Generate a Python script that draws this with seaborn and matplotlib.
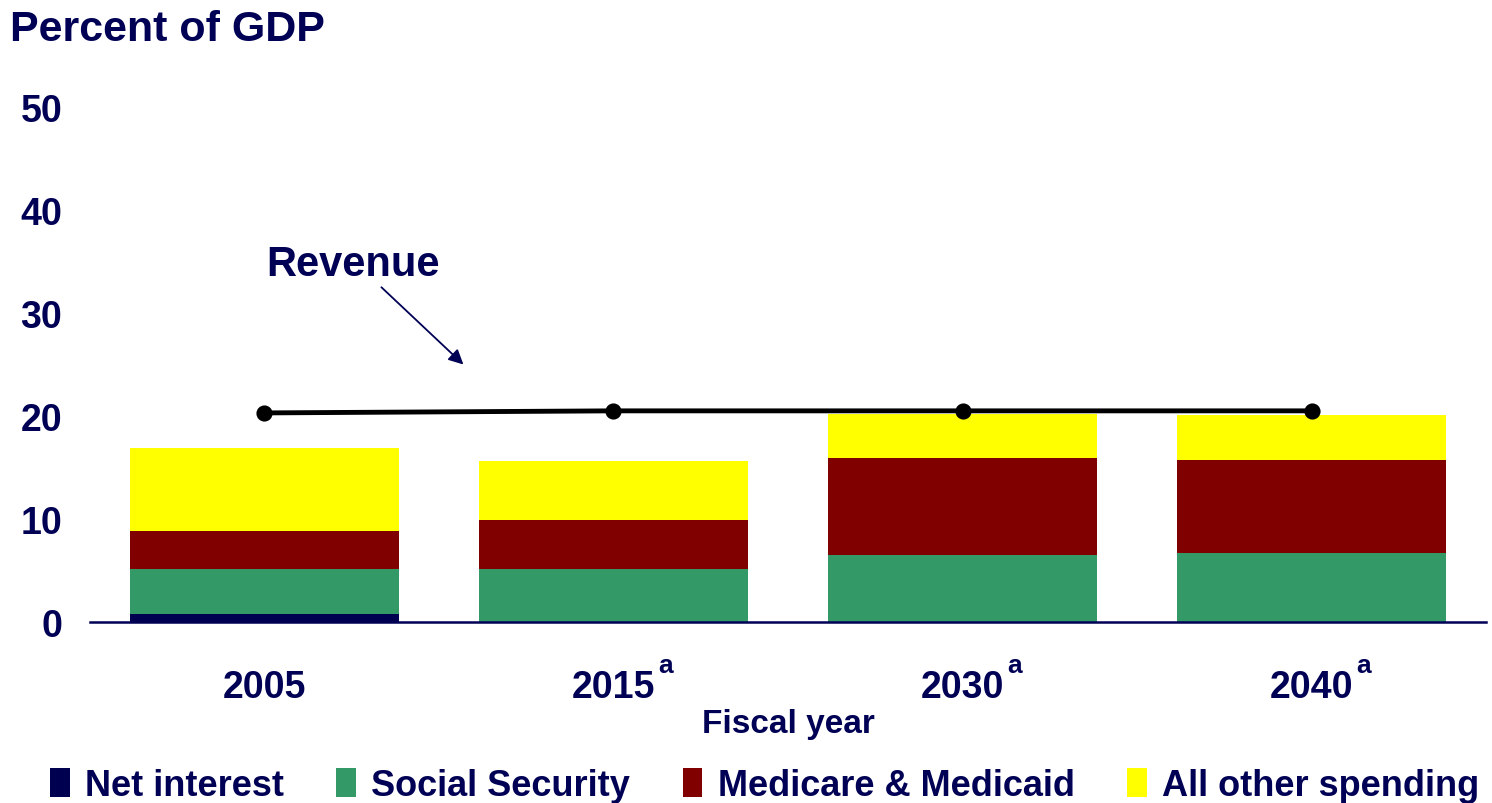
import numpy as np
import pandas as pd
import matplotlib
matplotlib.use("Agg")
import matplotlib.pyplot as plt
import seaborn as sns
from matplotlib.patches import Patch

# ---- data -------------------------------------------------------------
years = ["2005", "2015", "2030", "2040"]
year_notes = ["", "a", "a", "a"]
net_interest = [0.8, 0.0, 0.0, 0.0]
social_security = [4.35, 5.15, 6.5, 6.7]
medicare_medicaid = [3.7, 4.75, 9.4, 9.0]
all_other = [8.05, 5.7, 4.3, 4.4]
revenue = [20.3, 20.5, 20.5, 20.5]

series = ["Net interest", "Social Security", "Medicare & Medicaid", "All other spending"]
colors = ["#000050", "#339966", "#800000", "#FFFF00"]
NAVY = "#000055"

sns.set_theme(style="white")
plt.rcParams["font.family"] = ["Liberation Sans", "DejaVu Sans"]
plt.rcParams["font.weight"] = "bold"

df = pd.DataFrame({"year": years,
                   series[0]: net_interest,
                   series[1]: social_security,
                   series[2]: medicare_medicaid,
                   series[3]: all_other})
cum = df[series].cumsum(axis=1)

fig = plt.figure(figsize=(14.92, 8.04), dpi=100)
ax = fig.add_axes([0.0603, 0.2251, 0.9357, 0.6406])

# stacked bars: draw cumulative totals from the top segment down
for name, col in zip(reversed(series), reversed(colors)):
    sns.barplot(x=df["year"], y=cum[name], color=col, width=0.77,
                saturation=1, ax=ax, edgecolor="none", linewidth=0)

# revenue line
sns.pointplot(x=df["year"], y=revenue, color="black", ax=ax,
              markers="o", markersize=9, linewidth=3.5, errorbar=None)

ax.set_xlim(-0.5, 3.5)
ax.set_ylim(0, 50)
ax.set_yticks(range(0, 51, 10))
ax.set_yticklabels([str(v) for v in range(0, 51, 10)], fontsize=27,
                   color=NAVY, fontweight="bold")
ax.set_xticks(range(len(years)))
ax.set_xticklabels(years, fontsize=27, color=NAVY, fontweight="bold")
ax.tick_params(axis="y", length=0, pad=20)
ax.tick_params(axis="x", length=0, pad=34)
ax.set_xlabel("Fiscal year", fontsize=24, color=NAVY, fontweight="bold",
              labelpad=2)
ax.set_ylabel("")

# footnote markers next to projected years
for i, note in enumerate(year_notes):
    if note:
        ax.annotate(note, xy=(i, 0), xycoords=("data", "axes fraction"),
                    xytext=(32, -36), textcoords="offset points",
                    fontsize=19, color=NAVY, fontweight="bold",
                    ha="left", va="baseline")

for s in ["top", "left", "right"]:
    ax.spines[s].set_visible(False)
ax.spines["bottom"].set_color(NAVY)
ax.spines["bottom"].set_linewidth(1.8)

fig.text(0.007, 0.963, "Percent of GDP", fontsize=31, color=NAVY,
         fontweight="bold", ha="left", va="center")

# Revenue annotation
ax.text(0.255, 34.8, "Revenue", fontsize=30, color=NAVY, fontweight="bold",
        ha="center", va="center")
ax.annotate("", xy=(0.57, 25.0), xytext=(0.335, 32.5),
            arrowprops=dict(arrowstyle="-|>", color=NAVY, lw=1.3,
                            mutation_scale=22, shrinkA=0, shrinkB=0))

# legend
handles = [Patch(facecolor=c, edgecolor="none") for c in colors]
leg = fig.legend(handles, series, loc="center left",
                 bbox_to_anchor=(0.0335, 0.022), ncol=4, frameon=False,
                 handlelength=0.55, handleheight=0.85, handletextpad=0.42,
                 columnspacing=1.45, borderpad=0, borderaxespad=0,
                 prop={"weight": "bold", "size": 26})
for t in leg.get_texts():
    t.set_color(NAVY)

fig.savefig("out.png", dpi=100)
